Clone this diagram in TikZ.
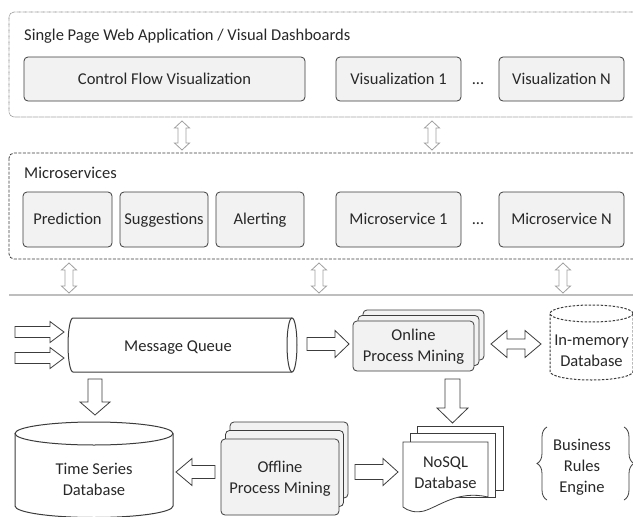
\documentclass[tikz,border=0pt]{standalone}
\usepackage{fontspec}
\setmainfont{Carlito}
\usetikzlibrary{decorations.pathreplacing}
\definecolor{boxfill}{RGB}{242,242,242}
\definecolor{boxline}{RGB}{60,60,60}
\definecolor{txtc}{RGB}{40,40,40}
\definecolor{lightarr}{RGB}{160,160,160}
\definecolor{sepc}{RGB}{190,190,190}
\definecolor{dotc}{RGB}{120,120,120}
% vertical double arrow: style, x, ytop, ybot, half shaft, half head, head length
\newcommand{\VDblArrow}[7]{\draw[#1] (#2,#3) -- ({#2+#6},{#3+#7}) -- ({#2+#5},{#3+#7}) -- ({#2+#5},{#4-#7}) -- ({#2+#6},{#4-#7}) -- (#2,#4) -- ({#2-#6},{#4-#7}) -- ({#2-#5},{#4-#7}) -- ({#2-#5},{#3+#7}) -- ({#2-#6},{#3+#7}) -- cycle;}
% horizontal double arrow: style, y, xleft, xright, half shaft, half head, head length
\newcommand{\HDblArrow}[7]{\draw[#1] (#3,#2) -- ({#3+#7},{#2-#6}) -- ({#3+#7},{#2-#5}) -- ({#4-#7},{#2-#5}) -- ({#4-#7},{#2-#6}) -- (#4,#2) -- ({#4-#7},{#2+#6}) -- ({#4-#7},{#2+#5}) -- ({#3+#7},{#2+#5}) -- ({#3+#7},{#2+#6}) -- cycle;}
% right arrow: style, y, xtail, xtip, half shaft, half head, head length
\newcommand{\RArrow}[7]{\draw[#1] (#3,{#2-#5}) -- ({#4-#7},{#2-#5}) -- ({#4-#7},{#2-#6}) -- (#4,#2) -- ({#4-#7},{#2+#6}) -- ({#4-#7},{#2+#5}) -- (#3,{#2+#5}) -- cycle;}
% left arrow: style, y, xtip, xtail, half shaft, half head, head length
\newcommand{\LArrow}[7]{\draw[#1] (#4,{#2-#5}) -- ({#3+#7},{#2-#5}) -- ({#3+#7},{#2-#6}) -- (#3,#2) -- ({#3+#7},{#2+#6}) -- ({#3+#7},{#2+#5}) -- (#4,{#2+#5}) -- cycle;}
% down arrow: style, x, ytail, ytip, half shaft, half head, head length
\newcommand{\DArrow}[7]{\draw[#1] ({#2-#5},#3) -- ({#2-#5},{#4-#7}) -- ({#2-#6},{#4-#7}) -- (#2,#4) -- ({#2+#6},{#4-#7}) -- ({#2+#5},{#4-#7}) -- ({#2+#5},#3) -- cycle;}
\begin{document}
\begin{tikzpicture}[x=1pt,y=-1pt,
  font=\fontsize{16.5}{21}\selectfont, text=txtc,
  box/.style={draw=boxline, fill=boxfill, rounded corners=4pt, line width=0.8pt, inner sep=0pt, align=center},
  onebox/.style={box, text height=10.5pt, text depth=0pt},
  lbl/.style={inner sep=0pt, align=center},
  onelbl/.style={lbl, text height=10.5pt, text depth=0pt},
  stackbox/.style={draw=boxline, fill=boxfill, rounded corners=4pt, line width=0.8pt},
  docpage/.style={draw=boxline, fill=white, line width=0.8pt},
  blockarrow/.style={draw=boxline, fill=white, line width=0.8pt, line join=miter},
  lightarrow/.style={draw=lightarr, fill=white, line width=0.8pt, line join=miter},
  cyl/.style={draw=boxline, fill=white, line width=1pt},
  outerdot/.style={draw=dotc, line width=0.6pt, dash pattern=on 0.6pt off 0.6pt, rounded corners=5pt},
  outerdash/.style={draw=boxline, line width=0.8pt, dash pattern=on 3pt off 1.5pt, rounded corners=5pt},
  sepline/.style={draw=sepc, line width=2pt},
  brc/.style={draw=boxline, line width=0.8pt, decorate, decoration={brace, amplitude=10pt}}
]
\useasboundingbox (0,0) rectangle (633,517);
\clip (0,0) rectangle (633,517);
\fill[white] (0,0) rectangle (633,517);

% ---------- top layer ----------
\draw[outerdot] (9,12) rectangle (660,117);
\node[onelbl, anchor=west] (webtitle) at (24,35) {Single Page Web Application / Visual Dashboards};
\node[onebox, minimum width=281pt, minimum height=44pt] (cfv) at (164.5,79) {Control Flow Visualization};
\node[onebox, minimum width=125pt, minimum height=44pt] (viz1) at (398.5,79) {Visualization 1};
\node[onelbl] (dots1) at (478,79) {...};
\node[onebox, minimum width=125pt, minimum height=44pt] (vizN) at (561.5,79) {Visualization N};

\VDblArrow{lightarrow}{182}{121}{150}{4}{7.5}{7}
\VDblArrow{lightarrow}{432}{121}{150}{4}{7.5}{7}

% ---------- microservices ----------
\draw[outerdash] (9,153) rectangle (660,259);
\node[onelbl, anchor=west] (mstitle) at (24,173) {Microservices};
\node[onebox, minimum width=89pt, minimum height=55pt] (pred) at (67.5,219.5) {Prediction};
\node[onebox, minimum width=88pt, minimum height=55pt] (sugg) at (164,219.5) {Suggestions};
\node[onebox, minimum width=88pt, minimum height=55pt] (alert) at (260,219.5) {Alerting};
\node[onebox, minimum width=125pt, minimum height=55pt] (ms1) at (398.5,219.5) {Microservice 1};
\node[onelbl] (dots2) at (478,219.5) {...};
\node[onebox, minimum width=125pt, minimum height=55pt] (msN) at (561.5,219.5) {Microservice N};

\VDblArrow{lightarrow}{69}{263}{293}{4}{7.5}{7}
\VDblArrow{lightarrow}{319}{263}{293}{4}{7.5}{7}
\VDblArrow{lightarrow}{563}{263}{293}{4}{7.5}{7}

\draw[sepline] (9,295) -- (640,295);

% ---------- message queue ----------
\draw[cyl] (292,318) -- (73,318) arc[start angle=-90, end angle=-270, x radius=5, y radius=27] -- (292,372);
\draw[cyl] (292,345) ellipse [x radius=5, y radius=27];
\node[onelbl] (mq) at (178,346) {Message Queue};
\RArrow{blockarrow}{332}{15}{64}{5.5}{10.5}{14}
\RArrow{blockarrow}{358}{15}{64}{5.5}{10.5}{14}

% ---------- online process mining ----------
\draw[stackbox] (363,310) rectangle (484,360);
\draw[stackbox] (358,315.5) rectangle (479,365.5);
\draw[stackbox] (353,321) rectangle (474,371);
\node[lbl] (opm) at (413.5,347) {Online\\Process Mining};
\RArrow{blockarrow}{344}{307}{349}{6.5}{13.5}{14}

% ---------- in-memory database ----------
\draw[cyl, dash pattern=on 2.5pt off 1.5pt] (550,313.5) -- (550,371.5) arc[start angle=180, end angle=0, x radius=41.5, y radius=8.5] -- (633,313.5);
\draw[cyl, dash pattern=on 2.5pt off 1.5pt] (591.5,313.5) ellipse [x radius=41.5, y radius=8.5];
\node[lbl] (imdb) at (591.5,351) {In-memory\\Database};
\HDblArrow{blockarrow}{344}{491}{541}{5}{13.5}{16}

% ---------- time series database ----------
\DArrow{blockarrow}{95}{379}{415}{7}{15}{13}
\draw[cyl] (15,433.5) -- (15,506) arc[start angle=180, end angle=0, x radius=79, y radius=11.5] -- (173,433.5);
\draw[cyl] (94,433.5) ellipse [x radius=79, y radius=11.5];
\node[lbl] (tsdb) at (94,479) {Time Series\\Database};

% ---------- offline process mining ----------
\draw[stackbox] (230,422) rectangle (348,498);
\draw[stackbox] (225.5,430.5) rectangle (343.5,506.5);
\draw[stackbox] (221,439) rectangle (339,515);
\node[lbl] (offpm) at (280,479) {Offline\\Process Mining};
\LArrow{blockarrow}{472}{176}{215}{6.5}{13.5}{16}
\RArrow{blockarrow}{472}{355}{398}{7.5}{13.5}{15}

% ---------- NoSQL database ----------
\DArrow{blockarrow}{452.5}{379}{423}{7.5}{15.5}{15}
\draw[docpage] (417,426) rectangle (503,490);
\draw[docpage] (410,433) rectangle (495,497);
\draw[docpage] (403,442) -- (488,442) -- (488,497) .. controls (458,490) and (440,506) .. (424,511) .. controls (415,513) and (408,511) .. (403,507) -- cycle;
\node[lbl] (nosql) at (445.5,473) {NoSQL\\Database};

% ---------- business rules engine ----------
\node[lbl] (bre) at (582,467) {Business\\Rules\\Engine};
\draw[brc] (547,500) -- (547,427);
\draw[brc] (624,427) -- (624,500);
\end{tikzpicture}
\end{document}
